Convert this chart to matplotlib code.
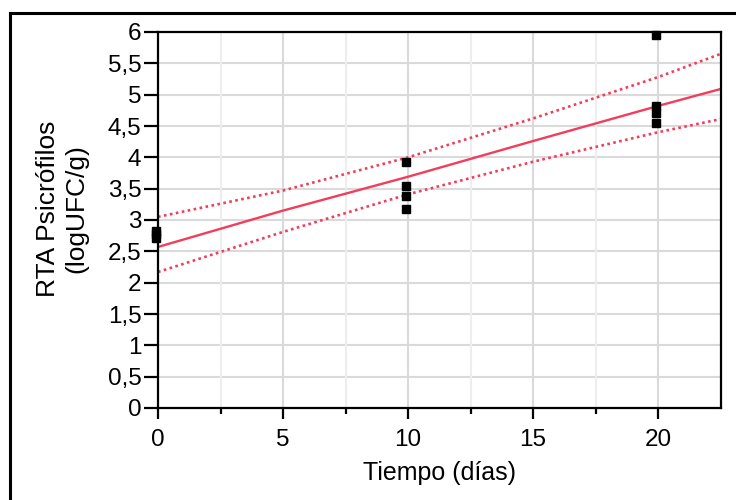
import numpy as np
import matplotlib
matplotlib.use("Agg")
import matplotlib.pyplot as plt
from matplotlib.lines import Line2D

plt.rcParams['font.family'] = ['Liberation Sans', 'DejaVu Sans']

# observed values (log UFC/g) per sampling day
obs_x = [-0.08, -0.08, -0.08, 9.93, 9.93, 9.93, 9.93, 19.9, 19.9, 19.9, 19.9]
obs_y = [2.82, 2.77, 2.72, 3.92, 3.55, 3.39, 3.17, 5.95, 4.82, 4.70, 4.55]

# fitted line and confidence limits
fit_x = [0, 5, 10, 15, 20, 22.5]
fit_y = [2.57, 3.15, 3.69, 4.26, 4.82, 5.09]
upper_y = [3.05, 3.47, 4.00, 4.62, 5.28, 5.65]
lower_y = [2.17, 2.81, 3.41, 3.93, 4.40, 4.61]

y_ticks = np.arange(0, 6.01, 0.5)
y_labels = [f"{v:g}".replace('.', ',') for v in y_ticks]

red = '#f23d5c'

fig = plt.figure(figsize=(7.36, 5.0), dpi=100)
ax = fig.add_axes([158 / 736, 1 - 408 / 500, (721 - 158) / 736, (408 - 32) / 500])

# grid
for v in y_ticks[1:-1]:
    ax.axhline(v, color='#dadada', lw=1.5, zorder=0)
for v in [5, 10, 15, 20]:
    ax.axvline(v, color='#dadada', lw=1.5, zorder=0)
for v in [2.5, 7.5, 12.5, 17.5]:
    ax.axvline(v, color='#eeeeee', lw=1.5, zorder=0)

ax.plot(fit_x, fit_y, color=red, lw=1.7, zorder=2)
ax.plot(fit_x, upper_y, color=red, lw=1.9, ls=(0, (1, 1.3)), zorder=2)
ax.plot(fit_x, lower_y, color=red, lw=1.9, ls=(0, (1, 1.3)), zorder=2)
ax.plot(obs_x, obs_y, 's', color='black', ms=6, clip_on=False, zorder=5)

ax.set_xlim(0, 22.52)
ax.set_ylim(0, 6)
ax.set_xticks([0, 5, 10, 15, 20])
ax.set_xticks([2.5, 7.5, 12.5, 17.5], minor=True)
ax.set_yticks(y_ticks)
ax.set_yticklabels(y_labels)

for s in ax.spines.values():
    s.set_linewidth(1.6)
    s.set_color('black')

ax.tick_params(axis='y', direction='out', length=10, width=1.6, pad=2, labelsize=17.5)
ax.tick_params(axis='x', which='major', direction='out', length=8, width=1.6, pad=7, labelsize=17.5)
ax.tick_params(axis='x', which='minor', direction='out', length=4, width=1.6)

ax.set_xlabel('Tiempo (días)', fontsize=18, labelpad=7)
ax.set_ylabel('RTA Psicrófilos\n(logUFC/g)', fontsize=19, linespacing=1.2)
ax.yaxis.set_label_coords(-0.124, 0.53)

# frame of the original figure (left and top edges)
fig.add_artist(Line2D([10 / 736, 10 / 736], [0, 1 - 13 / 500], color='black', lw=2.2))
fig.add_artist(Line2D([10 / 736, 1], [1 - 13 / 500, 1 - 13 / 500], color='black', lw=2.2))

fig.savefig('out.png', dpi=100)
